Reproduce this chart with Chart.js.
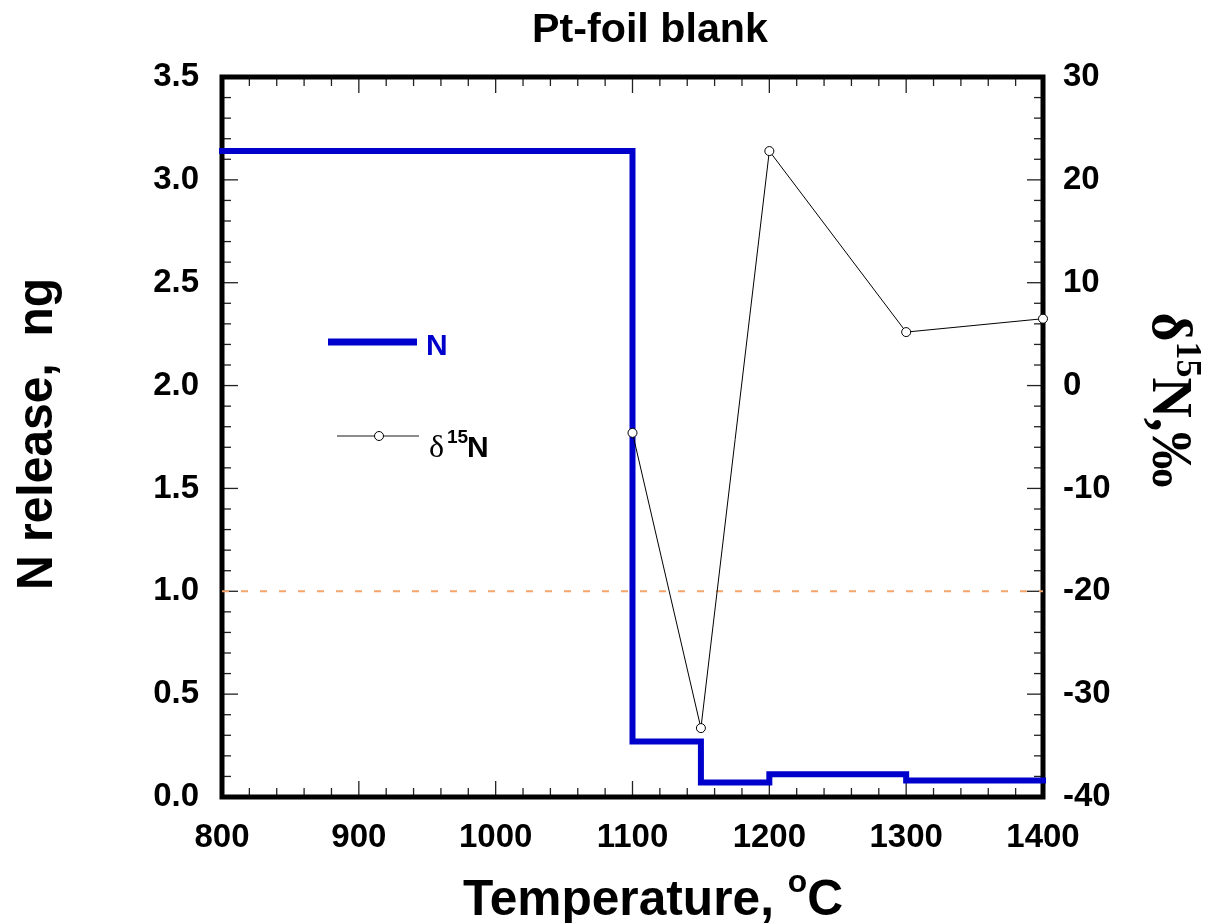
<!DOCTYPE html>
<html>
<head>
  <meta charset="UTF-8" />
  <title>Pt-foil blank</title>
  <style>
    body { margin: 0; background: #fff; }
    #wrap { width: 1213px; height: 923px; }
  </style>
  <script src="https://cdn.jsdelivr.net/npm/chart.js"></script>
</head>
<body>
  <div id="wrap"><canvas id="chart" width="1213" height="923"></canvas></div>
  <script>
    // step data: N release per temperature step (ng)
    const stepTemps = [800, 1100, 1150, 1200, 1300, 1400];
    const nRelease = [3.14, 0.27, 0.07, 0.11, 0.08, 0.08];
    // d15N per step (permil)
    const deltaTemps = [1100, 1150, 1200, 1300, 1400];
    const delta15N = [-4.6, -33.3, 22.8, 5.2, 6.5];
    // dashed blank level
    const blankTemps = [800, 1400];
    const blankLevel = [1.0, 1.0];

    const sans = "'Liberation Sans', Arial, sans-serif";
    const serif = "'Liberation Serif', 'Times New Roman', serif";
    const blue = '#0000cc';

    function toPts(xs, ys) { return xs.map((x, i) => ({ x: x, y: ys[i] })); }

    // draw text made of parts (for superscripts), squeezed to a target width
    function drawRich(ctx, parts, x, y, targetW) {
      let w = 0;
      parts.forEach(p => { ctx.font = p.font; p.w = ctx.measureText(p.t).width; w += p.w; });
      const s = targetW ? targetW / w : 1;
      ctx.save();
      ctx.translate(x, y);
      ctx.scale(s, 1);
      ctx.textBaseline = 'alphabetic';
      ctx.textAlign = 'left';
      let cx = -w / 2;
      parts.forEach(p => {
        ctx.font = p.font;
        ctx.fillStyle = p.color || '#000';
        ctx.fillText(p.t, cx, p.dy || 0);
        cx += p.w;
      });
      ctx.restore();
    }

    function drawTicks(ctx, scale, min, max, minor, major, side, area) {
      const n = Math.round((max - min) / minor);
      for (let i = 0; i <= n; i++) {
        const v = min + i * minor;
        const isMajor = Math.abs(v / major - Math.round(v / major)) < 1e-6;
        const len = isMajor ? 13 : 6;
        const p = scale.getPixelForValue(v);
        ctx.beginPath();
        if (side === 'left') { ctx.moveTo(area.left, p); ctx.lineTo(area.left + 3 + len, p); }
        if (side === 'right') { ctx.moveTo(area.right, p); ctx.lineTo(area.right - 3 - len, p); }
        if (side === 'bottom') { ctx.moveTo(p, area.bottom); ctx.lineTo(p, area.bottom - 3 - len); }
        if (side === 'top') { ctx.moveTo(p, area.top); ctx.lineTo(p, area.top + 3 + len); }
        ctx.stroke();
      }
    }

    const framePlugin = {
      id: 'frame',
      beforeDatasetsDraw(chart) {
        const ctx = chart.ctx, a = chart.chartArea, s = chart.scales;
        ctx.save();
        ctx.strokeStyle = '#222';
        ctx.lineWidth = 1.3;
        drawTicks(ctx, s.y, 0, 3.5, 0.1, 0.5, 'left', a);
        drawTicks(ctx, s.y1, -40, 30, 2, 10, 'right', a);
        drawTicks(ctx, s.x, 800, 1400, 20, 100, 'bottom', a);
        drawTicks(ctx, s.x, 800, 1400, 20, 100, 'top', a);
        ctx.strokeStyle = '#000';
        ctx.lineWidth = 5;
        ctx.lineJoin = 'miter';
        ctx.strokeRect(a.left, a.top, a.right - a.left, a.bottom - a.top);
        ctx.restore();
      },
      afterDraw(chart) {
        const ctx = chart.ctx;
        ctx.save();
        // title
        drawRich(ctx, [{ t: 'Pt-foil blank', font: 'bold 40px ' + sans }], 650, 42, 236);
        // x title
        drawRich(ctx, [
          { t: 'Temperature, ', font: 'bold 50px ' + sans },
          { t: 'o', font: 'bold 32px ' + sans, dy: -23 },
          { t: 'C', font: 'bold 50px ' + sans }
        ], 653, 915, 380);
        // left title
        ctx.save();
        ctx.translate(52, 434);
        ctx.rotate(-Math.PI / 2);
        drawRich(ctx, [{ t: 'N release,  ng', font: 'bold 50px ' + sans }], 0, 0, 312);
        ctx.restore();
        // right title
        ctx.save();
        ctx.translate(1153, 400);
        ctx.rotate(Math.PI / 2);
        drawRich(ctx, [
          { t: '\u03b4', font: 'bold 56px ' + serif },
          { t: '15', font: 'bold 36px ' + serif, dy: -24 },
          { t: 'N,\u2030', font: 'bold 56px ' + serif }
        ], 0, 0, 175);
        ctx.restore();
        // legend
        ctx.strokeStyle = blue;
        ctx.lineWidth = 7;
        ctx.beginPath(); ctx.moveTo(328, 342); ctx.lineTo(417, 342); ctx.stroke();
        ctx.fillStyle = blue;
        ctx.font = 'bold 30px ' + sans;
        ctx.textBaseline = 'alphabetic';
        ctx.fillText('N', 426, 355);
        ctx.strokeStyle = '#666';
        ctx.lineWidth = 1.5;
        ctx.beginPath(); ctx.moveTo(337, 436); ctx.lineTo(419, 436); ctx.stroke();
        ctx.beginPath(); ctx.arc(379, 436, 4.5, 0, Math.PI * 2);
        ctx.fillStyle = '#fff'; ctx.fill();
        ctx.strokeStyle = '#000'; ctx.lineWidth = 1; ctx.stroke();
        ctx.fillStyle = '#000';
        ctx.font = '32px ' + serif;
        ctx.fillText('\u03b4', 429, 457);
        ctx.font = 'bold 19px ' + sans;
        ctx.fillText('15', 447, 443);
        ctx.font = 'bold 30px ' + sans;
        ctx.fillText('N', 467, 457);
        ctx.restore();
      }
    };

    const tickFont = { family: sans, size: 33, weight: 'bold' };

    new Chart(document.getElementById('chart'), {
      type: 'line',
      data: {
        datasets: [
          {
            label: 'δ15N',
            data: toPts(deltaTemps, delta15N),
            yAxisID: 'y1',
            borderColor: '#000',
            borderWidth: 1,
            pointRadius: 4.5,
            pointBackgroundColor: '#fff',
            pointBorderColor: '#000',
            pointBorderWidth: 1,
            clip: false,
            order: 0
          },
          {
            label: 'N',
            data: toPts(stepTemps, nRelease),
            yAxisID: 'y',
            stepped: 'before',
            borderColor: blue,
            borderWidth: 6,
            borderCapStyle: 'square',
            pointRadius: 0,
            clip: false,
            order: 1
          },
          {
            label: 'blank',
            data: toPts(blankTemps, blankLevel),
            yAxisID: 'y',
            borderColor: '#f4a46c',
            borderWidth: 2,
            borderDash: [7, 12],
            pointRadius: 0,
            order: 2
          }
        ]
      },
      options: {
        responsive: false,
        animation: false,
        layout: { padding: { top: 77 } },
        plugins: { legend: { display: false }, tooltip: { enabled: false } },
        scales: {
          x: {
            type: 'linear', min: 800, max: 1400,
            ticks: { stepSize: 100, color: '#000', font: tickFont, padding: 21, maxRotation: 0, callback: v => String(v) },
            grid: { display: false, drawTicks: false },
            border: { display: false },
            afterFit(scale) { scale.height = 126; }
          },
          y: {
            position: 'left', min: 0, max: 3.5,
            ticks: { stepSize: 0.5, color: '#000', font: tickFont, padding: 23, callback: v => v.toFixed(1) },
            grid: { display: false, drawTicks: false },
            border: { display: false },
            afterFit(scale) { scale.width = 222; }
          },
          y1: {
            position: 'right', min: -40, max: 30,
            ticks: { stepSize: 10, color: '#000', font: tickFont, padding: 20, callback: v => String(v) },
            grid: { display: false, drawTicks: false },
            border: { display: false },
            afterFit(scale) { scale.width = 170; }
          }
        }
      },
      plugins: [framePlugin]
    });
  </script>
</body>
</html>
